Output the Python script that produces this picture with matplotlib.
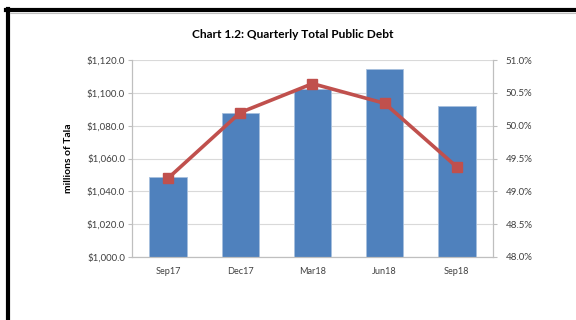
import matplotlib
matplotlib.use('Agg')
import matplotlib.pyplot as plt
from matplotlib.lines import Line2D
from matplotlib.ticker import FuncFormatter, MultipleLocator

plt.rcParams['font.family'] = ['Lato', 'DejaVu Sans']

## ------------------------------
## data
quarters = ['Sep17', 'Dec17', 'Mar18', 'Jun18', 'Sep18']
debt = [1048.9, 1087.9, 1102.1, 1114.3, 1092.1]        # millions of Tala
debt_pct = [49.20, 50.20, 50.64, 50.34, 49.37]          # percent

W, H = 576, 320
fig = plt.figure(figsize=(W/100, H/100), dpi=100)
fig.patch.set_facecolor('white')

# axes box in pixels: left 132, right 493, top 60, bottom 257
ax = fig.add_axes([132/W, (H-257)/H, (493-132)/W, (257-60)/H])
x = range(len(quarters))
ax.bar(x, debt, width=0.52, color='#4F81BD', edgecolor='#A7C0DE', linewidth=0.6, zorder=2)
ax.set_ylim(1000, 1120)
ax.set_xlim(-0.5, len(quarters)-0.5)
ax.yaxis.set_major_locator(MultipleLocator(20))
ax.yaxis.set_major_formatter(FuncFormatter(lambda v, p: '${:,.1f}'.format(v)))
ax.set_xticks(list(x))
ax.set_xticklabels(quarters)
ax.grid(axis='y', color='#D9D9D9', linewidth=0.8, zorder=0)
ax.set_axisbelow(True)
ax.tick_params(axis='x', length=0, pad=7, labelsize=6.6, colors='#404040')
ax.tick_params(axis='y', length=3, width=0.8, color='#BFBFBF', labelsize=7, labelcolor='#404040', pad=2)
ax.spines['top'].set_visible(False)
for s in ['left', 'right', 'bottom']:
    ax.spines[s].set_color('#BFBFBF')
    ax.spines[s].set_linewidth(0.8)
ax.set_ylabel('millions of Tala', fontsize=7.5, fontweight='bold', labelpad=10)

ax2 = ax.twinx()
ax2.plot(x, debt_pct, color='#C0504D', linewidth=2.6, marker='s', markersize=7,
         markerfacecolor='#C0504D', markeredgecolor='#C0504D', zorder=3)
ax2.set_ylim(48.0, 51.0)
ax2.yaxis.set_major_locator(MultipleLocator(0.5))
ax2.yaxis.set_major_formatter(FuncFormatter(lambda v, p: '{:.1f}%'.format(v)))
ax2.tick_params(axis='y', length=3, width=0.8, color='#BFBFBF', labelsize=7, labelcolor='#404040', pad=6)
ax2.spines['top'].set_visible(False)
for s in ['left', 'right', 'bottom']:
    ax2.spines[s].set_color('#BFBFBF')
    ax2.spines[s].set_linewidth(0.8)

fig.text(293/W, 1-34/H, 'Chart 1.2: Quarterly Total Public Debt', ha='center', va='center',
         fontsize=8.6, fontweight='bold', color='#000000')

# black frame along the top and left edge
fig.add_artist(Line2D([6/W, 1], [1-10/H, 1-10/H], color='black', linewidth=3.0, transform=fig.transFigure))
fig.add_artist(Line2D([8/W, 8/W], [0, 1-8.5/H], color='black', linewidth=3.0, transform=fig.transFigure))
fig.add_artist(Line2D([10/W, 1], [1-12.5/H, 1-12.5/H], color='#BFBFBF', linewidth=0.8, transform=fig.transFigure))

fig.savefig('out.png', dpi=100)
